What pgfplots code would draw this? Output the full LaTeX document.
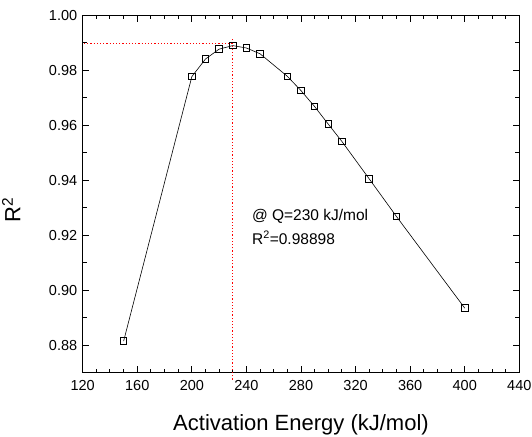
\documentclass[border=0pt]{standalone}
\usepackage{fontspec}
\setmainfont{Liberation Sans}
\usepackage{pgfplots}
\pgfplotsset{compat=1.18}
\definecolor{refred}{RGB}{255,0,0}
\begin{document}
\begin{tikzpicture}
\useasboundingbox (-82.7bp,-64.3bp) rectangle (449.3bp,372.7bp);
\begin{axis}[
  at={(0,0)}, anchor=south west,
  scale only axis, width=436.6bp, height=357.4bp,
  xmin=120, xmax=440, ymin=0.87, ymax=1.00,
  clip=false,
  xtick={120,160,...,440},
  minor x tick num=3,
  ytick={0.88,0.90,0.92,0.94,0.96,0.98,1.00},
  minor ytick={0.87,0.89,0.91,0.93,0.95,0.97,0.99},
  scaled y ticks=false,
  yticklabel style={/pgf/number format/fixed, /pgf/number format/fixed zerofill, /pgf/number format/precision=2, xshift=-2bp},
  xticklabel style={yshift=-4.5bp},
  /pgf/number format/assume math mode=true,
  ticklabel style={font=\fontsize{14.5bp}{17bp}\selectfont},
  tick align=inside,
  major tick length=6.5bp, minor tick length=4bp,
  every tick/.style={black, line width=1bp},
  axis line style={line width=1.3bp},
  xlabel={Activation Energy (kJ/mol)},
  ylabel={R\textsuperscript{2}},
  xlabel style={font=\fontsize{22bp}{26bp}\selectfont, at={(axis description cs:0.5,-0.1617)}, anchor=base},
  ylabel style={font=\fontsize{22bp}{26bp}\selectfont, at={(axis description cs:-0.143,0.455)}, anchor=base},
]
\addplot[draw=refred, line width=1.2bp, dash pattern=on 1.2bp off 2bp] coordinates {(121,0.9897) (231,0.9897)};
\addplot[draw=refred, line width=1.2bp, dash pattern=on 1.2bp off 2bp] coordinates {(230,0.8675) (230,0.99136)};
\addplot[black, line width=0.6bp, mark=square, mark size=3.3bp, mark options={fill=white, line width=0.9bp, solid}] coordinates {
(150,0.8815) (200,0.9777) (210,0.9841) (220,0.9877) (230,0.98898) (240,0.9881) (250,0.9860)
(270,0.9778) (280,0.9726) (290,0.9668) (300,0.9604) (310,0.9541) (330,0.9405) (350,0.9268) (400,0.8935)
};
\node[anchor=base west, font=\fontsize{15.5bp}{18bp}\selectfont, inner sep=0pt] at (axis cs:244,0.9255) {@ Q=230 kJ/mol};
\node[anchor=base west, font=\fontsize{15.5bp}{18bp}\selectfont, inner sep=0pt] at (axis cs:244,0.9168) {R\textsuperscript{2}=0.98898};
\end{axis}
\end{tikzpicture}
\end{document}
